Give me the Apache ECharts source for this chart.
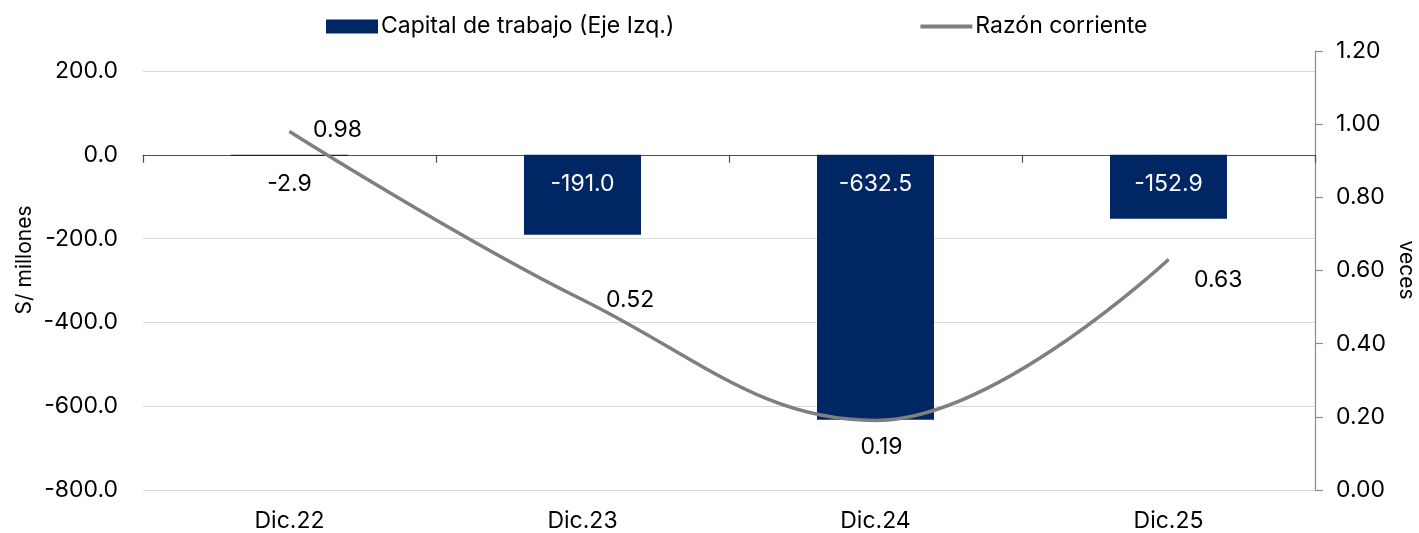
<!DOCTYPE html>
<html>
<head>
<meta charset="utf-8">
<script src="https://cdn.jsdelivr.net/npm/echarts@6/dist/echarts.min.js"></script>
<style>
  html, body { margin: 0; padding: 0; background: #fff; }
  #chart { width: 1419px; height: 533px; }
</style>
</head>
<body>
<div id="chart"></div>
<script>
var categories = ['Dic.22', 'Dic.23', 'Dic.24', 'Dic.25'];
var capitalTrabajo = [-2.9, -191.0, -632.5, -152.9];
var razonCorriente = [0.98, 0.52, 0.19, 0.63];

var FONT = 'Inter';
var FS = 23;
var chart = echarts.init(document.getElementById('chart'));

// label placement of the line points (Excel-like)
var lineLabelPos = [
  { position: 'right', distance: 23, offset: [0, -1] },
  { position: 'right', distance: 23, offset: [0, 0] },
  { position: 'bottom', distance: 15, offset: [6, 0] },
  { position: 'right', distance: 25, offset: [0, 21] }
];

chart.setOption({
  backgroundColor: '#fff',
  animation: false,
  textStyle: { fontFamily: FONT },
  legend: {
    left: 321,
    top: 10,
    itemWidth: 52,
    itemHeight: 14,
    itemGap: 246,
    textStyle: { fontFamily: FONT, fontSize: FS, color: '#000', padding: [0, 0, 0, -2] },
    data: [
      { name: 'Capital de trabajo (Eje Izq.)', icon: 'rect' },
      { name: 'Razón corriente', icon: 'path://M0,0H55V4H0Z' }
    ]
  },
  grid: [
    { left: 143, right: 104, top: 71, bottom: 43 },
    { left: 143, right: 104, top: 51, bottom: 43 }
  ],
  xAxis: [
    {
      type: 'category', gridIndex: 0, data: categories,
      axisLine: { onZero: true, lineStyle: { color: '#4d4d4d', width: 1.2 } },
      axisTick: { show: true, length: 8, lineStyle: { color: '#4d4d4d', width: 1.2 } },
      axisLabel: { show: false }
    },
    {
      type: 'category', gridIndex: 1, data: categories,
      axisLine: { show: false }, axisTick: { show: false },
      axisLabel: { margin: 20, fontFamily: FONT, fontSize: FS, color: '#000' }
    }
  ],
  yAxis: [
    {
      type: 'value', gridIndex: 0, min: -800, max: 200, interval: 200,
      axisLine: { show: false }, axisTick: { show: false },
      splitLine: { lineStyle: { color: '#d9d9d9', width: 1 } },
      axisLabel: {
        margin: 25, fontFamily: FONT, fontSize: FS, color: '#000',
        formatter: function (v) { return v.toFixed(1); }
      }
    },
    {
      type: 'value', gridIndex: 1, position: 'right', min: 0, max: 1.2, interval: 0.2,
      axisLine: { show: true, lineStyle: { color: '#8c8c8c', width: 1.2 } },
      axisTick: { show: true, length: 8, lineStyle: { color: '#8c8c8c', width: 1.2 } },
      splitLine: { show: false },
      axisLabel: {
        margin: 21, fontFamily: FONT, fontSize: FS, color: '#000',
        formatter: function (v) { return v.toFixed(2); }
      }
    }
  ],
  graphic: [
    {
      type: 'text', x: 25, y: 260, rotation: Math.PI / 2,
      style: { text: 'S/ millones', font: '21px ' + FONT, fill: '#000', align: 'center', verticalAlign: 'middle' }
    },
    {
      type: 'text', x: 1406, y: 270, rotation: -Math.PI / 2,
      style: { text: 'veces', font: '21px ' + FONT, fill: '#000', align: 'center', verticalAlign: 'middle' }
    }
  ],
  series: [
    {
      name: 'Capital de trabajo (Eje Izq.)',
      type: 'bar', xAxisIndex: 0, yAxisIndex: 0,
      barWidth: 117,
      itemStyle: { color: '#002664' },
      label: {
        show: true, position: 'insideTop', distance: 18,
        fontFamily: FONT, fontSize: FS, color: '#fff',
        formatter: function (p) { return p.value.toFixed(1); }
      },
      data: capitalTrabajo.map(function (v, i) {
        if (i === 0) return { value: v, label: { color: '#000' } };
        return v;
      })
    },
    {
      name: 'Razón corriente',
      type: 'line', xAxisIndex: 1, yAxisIndex: 1,
      smooth: 0.4,
      symbol: 'circle', symbolSize: 1,
      lineStyle: { color: '#7f7f7f', width: 3.5 },
      itemStyle: { color: '#7f7f7f' },
      label: {
        show: true, fontFamily: FONT, fontSize: FS, color: '#000',
        formatter: function (p) { return p.value.toFixed(2); }
      },
      data: razonCorriente.map(function (v, i) {
        return { value: v, label: lineLabelPos[i] };
      })
    }
  ]
});
</script>
</body>
</html>
